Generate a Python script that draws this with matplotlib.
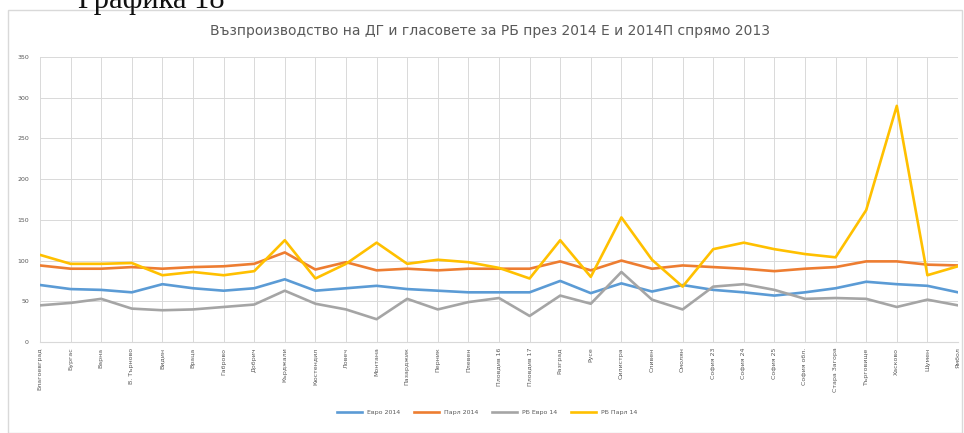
import matplotlib.pyplot as plt
from matplotlib.patches import Rectangle

districts = ['Благоевград', 'Бургас', 'Варна', 'В. Търново', 'Видин', 'Враца',
             'Габрово', 'Добрич', 'Кърджали', 'Кюстендил', 'Ловеч', 'Монтана',
             'Пазарджик', 'Перник', 'Плевен', 'Пловдив 16', 'Пловдив 17',
             'Разград', 'Русе', 'Силистра', 'Сливен', 'Смолян', 'София 23',
             'София 24', 'София 25', 'София обл.', 'Стара Загора', 'Търговище',
             'Хасково', 'Шумен', 'Ямбол']

euro14 = [70, 65, 64, 61, 71, 66, 63, 66, 77, 63, 66, 69, 65, 63, 61, 61,
          61, 75, 60, 72, 62, 70, 64, 61, 57, 61, 66, 74, 71, 69, 61]
parl14 = [94, 90, 90, 92, 90, 92, 93, 96, 110, 89, 98, 88, 90, 88, 90, 90,
          90, 99, 88, 100, 90, 94, 92, 90, 87, 90, 92, 99, 99, 95, 94]
rb_euro14 = [45, 48, 53, 41, 39, 40, 43, 46, 63, 47, 40, 28, 53, 40, 49, 54,
             32, 57, 47, 86, 52, 40, 68, 71, 64, 53, 54, 53, 43, 52, 45]
rb_parl14 = [107, 96, 96, 97, 82, 86, 82, 87, 125, 78, 96, 122, 96, 101, 98, 91,
             78, 125, 80, 153, 101, 68, 114, 122, 114, 108, 104, 162, 290, 82, 93]

series = [('Евро 2014', euro14, '#5B9BD5'),
          ('Парл 2014', parl14, '#ED7D31'),
          ('РБ Евро 14', rb_euro14, '#A5A5A5'),
          ('РБ Парл 14', rb_parl14, '#FFC000')]

fig = plt.figure(figsize=(9.64, 4.33), dpi=100)
# chart frame
fig.patches.append(Rectangle((8 / 964, 0), 954 / 964, 423 / 433, transform=fig.transFigure,
                             facecolor='white', edgecolor='#d9d9d9', lw=1, zorder=-5))
# page caption, cut by the top edge like in the source scan
fig.text(78 / 964, 1 - 8 / 433, 'Графика 18', fontsize=22, family='Liberation Serif',
         va='baseline', ha='left', color='#111111')
fig.text(490 / 964, 1 - 31 / 433, 'Възпроизводство на ДГ и гласовете за РБ през 2014 Е и 2014П спрямо 2013',
         fontsize=10, color='#595959', ha='center', va='center')

ax = fig.add_axes([40 / 964, 1 - 342 / 433, 918 / 964, 285 / 433])
ax.patch.set_alpha(0)
x = range(len(districts))
for name, vals, col in series:
    ax.plot(x, vals, color=col, lw=1.9, label=name)

ax.set_xlim(0, len(districts) - 1)
ax.set_ylim(0, 350)
ax.set_yticks(range(0, 351, 50))
ax.set_xticks(list(x))
ax.set_xticklabels(districts, rotation=90, fontsize=4.5, color='#595959')
ax.tick_params(axis='y', labelsize=4.5, labelcolor='#595959', length=0, pad=8)
ax.tick_params(axis='x', length=0, pad=4)
ax.grid(True, color='#d9d9d9', lw=0.7)
ax.set_axisbelow(True)
for s in ['top', 'right', 'left']:
    ax.spines[s].set_visible(False)
ax.spines['bottom'].set_color('#d9d9d9')

fig.legend(loc='center', bbox_to_anchor=(487 / 964, 1 - 412 / 433), ncol=4,
           fontsize=4.5, frameon=False, handlelength=4, columnspacing=2.2,
           labelcolor='#595959')

fig.savefig('out.png', dpi=100)
